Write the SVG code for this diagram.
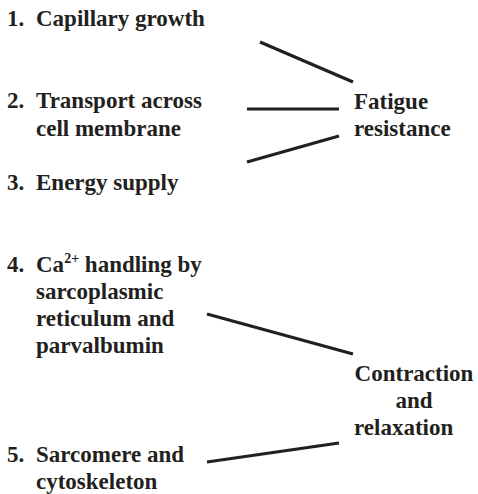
<svg xmlns="http://www.w3.org/2000/svg" width="478" height="494" viewBox="0 0 478 494">
<style>
.c line{stroke:#231f20;stroke-width:3.2;stroke-linecap:butt}
</style>
<rect width="478" height="494" fill="#fff"/>
<g font-family="Liberation Serif, 'Times New Roman', serif" font-weight="bold" font-size="23" fill="#231f20">
<g id="n1"><text x="7" y="26">1.</text><text x="36" y="26">Capillary growth</text></g>
<g id="n2"><text x="7" y="108">2.</text><text x="36" y="108">Transport across</text><text x="36" y="136">cell membrane</text></g>
<g id="n3"><text x="7" y="190">3.</text><text x="36" y="190">Energy supply</text></g>
<g id="n4"><text x="7" y="272">4.</text><text x="36" y="272">Ca<tspan font-size="14" dy="-9">2+</tspan><tspan dy="9"> handling by</tspan></text><text x="36" y="299">sarcoplasmic</text><text x="36" y="326">reticulum and</text><text x="36" y="353">parvalbumin</text></g>
<g id="n5"><text x="7" y="462">5.</text><text x="36" y="462">Sarcomere and</text><text x="36" y="489">cytoskeleton</text></g>
<g id="fatigue"><text x="354" y="109">Fatigue</text><text x="354" y="136">resistance</text></g>
<g id="contraction"><text x="414" y="381" text-anchor="middle">Contraction</text><text x="414" y="408" text-anchor="middle">and</text><text x="354" y="435">relaxation</text></g>
</g>
<g id="connectors" class="c">
<line x1="260" y1="42" x2="353" y2="82"/>
<line x1="247" y1="109" x2="339" y2="109"/>
<line x1="247" y1="162" x2="339" y2="136"/>
<line x1="207" y1="314" x2="353" y2="354"/>
<line x1="207" y1="462" x2="339" y2="443"/>
</g>
</svg>
